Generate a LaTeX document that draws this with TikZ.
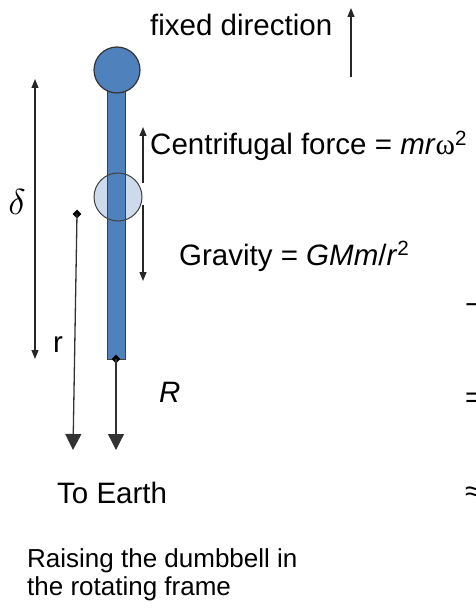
\documentclass[tikz,border=0pt]{standalone}
\usepackage{fontspec}
\setmainfont{Liberation Sans}
\newfontfamily\serifw{Liberation Serif}
\usetikzlibrary{arrows.meta,shapes.geometric}
\definecolor{rodblue}{HTML}{4F81BD}
\definecolor{paleblue}{HTML}{CCDAEC}
\begin{document}
\begin{tikzpicture}[x=1pt,y=-1pt,
  lab/.style={font=\fontsize{29.5}{34}\selectfont, inner sep=0pt, anchor=base west},
  captext/.style={font=\fontsize{26}{28}\selectfont, inner sep=0pt, anchor=base west, align=left},
  smallarrow/.style={-{Triangle[length=9pt,width=7pt]}, line width=1.1pt, draw=black!85},
  bigarrow/.style={-{Triangle[length=16pt,width=16pt]}, line width=1.3pt, draw=black!80},
  dia/.style={diamond, fill=black, inner sep=0pt, minimum size=9pt},
  ball/.style={circle, draw=black!80, line width=1.2pt, inner sep=0pt, minimum size=46pt}]
\clip (0,0) rectangle (475,612);
\useasboundingbox (0,0) rectangle (475,612);

% middle circle fill (under the rod)
\fill[paleblue] (118,197) circle (24);
% rod
\draw[fill=rodblue, draw=black!75, line width=1pt] (107,88) rectangle (125,359);
% middle circle outline over the rod
\node[ball, draw=black!75, line width=1pt, minimum size=48pt] (mid) at (118,197) {};
% top ball
\node[ball, fill=rodblue] (top) at (117,70) {};

% diamonds
\node[dia] (rstart) at (77,214) {};
\node[dia] (Rstart) at (116,359) {};

% arrow end points
\coordinate (fixB) at (351,77);
\coordinate (fixT) at (351,8);
\coordinate (dT) at (35,79);
\coordinate (dB) at (35,359);
\coordinate (cB) at (143,183);
\coordinate (cT) at (143,127);
\coordinate (gT) at (143,205);
\coordinate (gB) at (143,281);
\coordinate (rEnd) at (73,450);
\coordinate (REnd) at (116,450);

\draw[smallarrow] (fixB) -- (fixT);
\draw[smallarrow, {Triangle[length=9pt,width=7pt]}-{Triangle[length=9pt,width=7pt]}] (dT) -- (dB);
\draw[smallarrow] (cB) -- (cT);
\draw[smallarrow] (gT) -- (gB);
\draw[bigarrow] (rstart.center) -- (rEnd);
\draw[bigarrow] (Rstart.center) -- (REnd);

% labels
\node[lab] (fixed) at (150,36) {fixed direction};
\node[lab] (centri) at (150,155) {Centrifugal force = \textit{mr}{\serifw ω}\textsuperscript{2}};
\node[lab] (grav) at (179,265) {Gravity = \textit{GMm}/\textit{r}\textsuperscript{2}};
\node[inner sep=0pt] (delta) at (17,202) {\scalebox{3.6}{$\delta$}};
\node[lab] (rlab) at (53,352) {r};
\node[lab] (Rlab) at (159,402) {\textit{R}};
\node[lab] (earth) at (57,503) {To Earth};
\node[captext] (caption) at (27,595) {Raising the dumbbell in\\the rotating frame};

% clipped fragments at the right edge
\node[lab, anchor=west] (fragA) at (465,309) {−};
\node[lab, anchor=west] (fragB) at (465,400) {=};
\node[lab, anchor=west] (fragC) at (465,494) {≈};
\end{tikzpicture}
\end{document}
